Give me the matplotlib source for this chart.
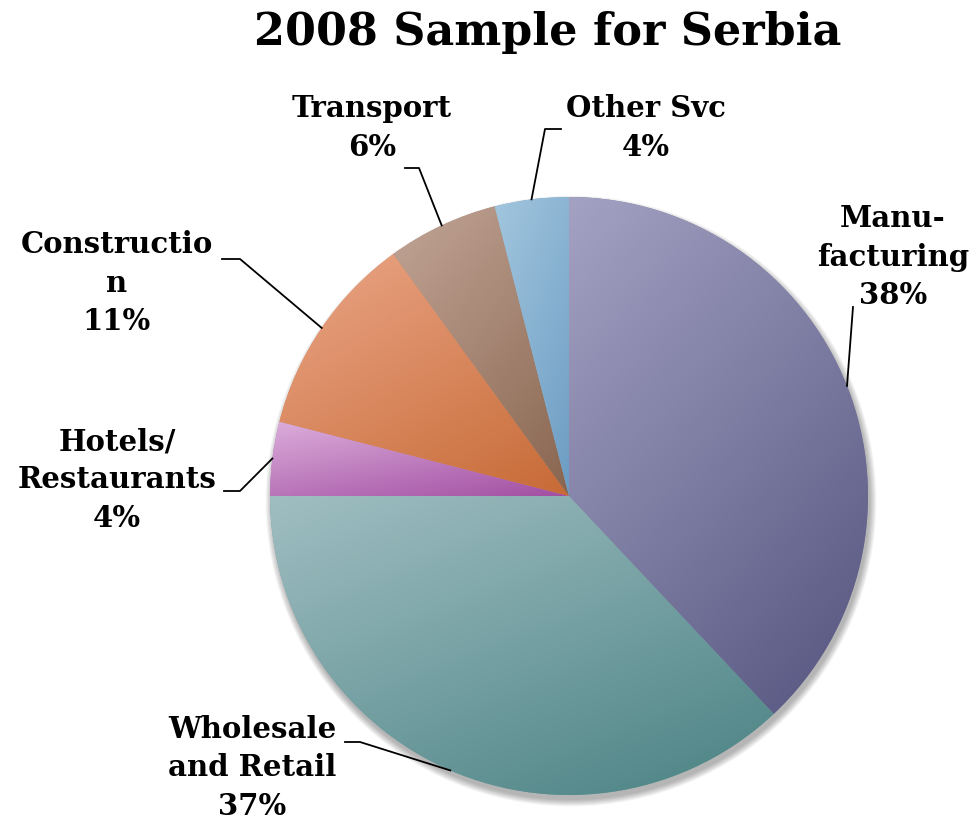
import numpy as np
import matplotlib
matplotlib.use('Agg')
import matplotlib.pyplot as plt
from matplotlib.patches import Circle
from matplotlib.colors import to_rgb

# data, clockwise from 12 o'clock
sectors = ['Manu-\nfacturing', 'Wholesale\nand Retail', 'Hotels/\nRestaurants',
           'Constructio\nn', 'Transport', 'Other Svc']
shares = [38, 37, 4, 11, 6, 4]
light = ['#a3a2c3', '#a0bec2', '#dcaedb', '#eba687', '#c2a597', '#a2c6de']
dark = ['#55547f', '#4a8283', '#a24fa2', '#c76a36', '#88654f', '#6c9cc3']

W, H = 976, 825
fig = plt.figure(figsize=(W / 100, H / 100), dpi=100)
ax = fig.add_axes([0, 0, 1, 1])
ax.set_xlim(0, W)
ax.set_ylim(0, H)
ax.set_aspect('equal')
ax.axis('off')

cx, cy, R = 569, H - 496, 299

# soft shadow, a bit down and right
for k in range(9):
    ax.add_patch(Circle((cx + 2, cy - 5), R + k * 0.8, color='k', alpha=0.035, lw=0, zorder=0))

mids = [tuple((np.array(to_rgb(a)) + np.array(to_rgb(b))) / 2) for a, b in zip(light, dark)]
wedges, _ = ax.pie(shares, startangle=90, counterclock=False, center=(cx, cy), radius=R,
                   colors=mids, wedgeprops=dict(lw=0), frame=False)
ax.set_xlim(0, W)
ax.set_ylim(0, H)

# linear gradient inside every slice, top-left light to bottom-right dark
n = 200
u = np.linspace(0, 1, n)
t = (0.4 * u[None, :] + 0.6 * u[:, None])
for w, c0, c1 in zip(wedges, light, dark):
    th = np.radians(np.linspace(w.theta1, w.theta2, 60))
    xs = np.r_[cx, cx + R * np.cos(th)]
    ys = np.r_[cy, cy + R * np.sin(th)]
    a, b = np.array(to_rgb(c0)), np.array(to_rgb(c1))
    img = a[None, None, :] * (1 - t[..., None]) + b[None, None, :] * t[..., None]
    im = ax.imshow(img, extent=(xs.min(), xs.max(), ys.min(), ys.max()),
                   origin='upper', interpolation='bilinear', zorder=2, aspect='auto')
    im.set_clip_path(w)
ax.set_xlim(0, W)
ax.set_ylim(0, H)

# label layout in pixels (text centre, elbow, line end)
text_pos = [(893, 257), (252, 768), (117, 480), (117, 283), (372, 128), (646, 128)]
elbow = [(853, 307), (360, 742), (240, 491), (240, 259), (419, 168), (545, 129)]
tail = [(853, 307), (345, 742), (224, 491), (222, 259), (405, 168), (561, 129)]

font = dict(family='DejaVu Serif', weight='bold', size=21)
for w, lab, s, tp, el, tl in zip(wedges, sectors, shares, text_pos, elbow, tail):
    mid = np.radians((w.theta1 + w.theta2) / 2)
    px, py = cx + R * np.cos(mid), cy + R * np.sin(mid)
    ax.plot([px, el[0], tl[0]], [py, H - el[1], H - tl[1]], color='k', lw=1.3, zorder=3)
    ax.text(tp[0], H - tp[1], f'{lab}\n{s}%', ha='center', va='center',
            linespacing=1.4, zorder=4, **font)

ax.text(548, H - 33, '2008 Sample for Serbia', ha='center', va='center',
        family='DejaVu Serif', weight='bold', size=32)

fig.savefig('out.png', dpi=100)
